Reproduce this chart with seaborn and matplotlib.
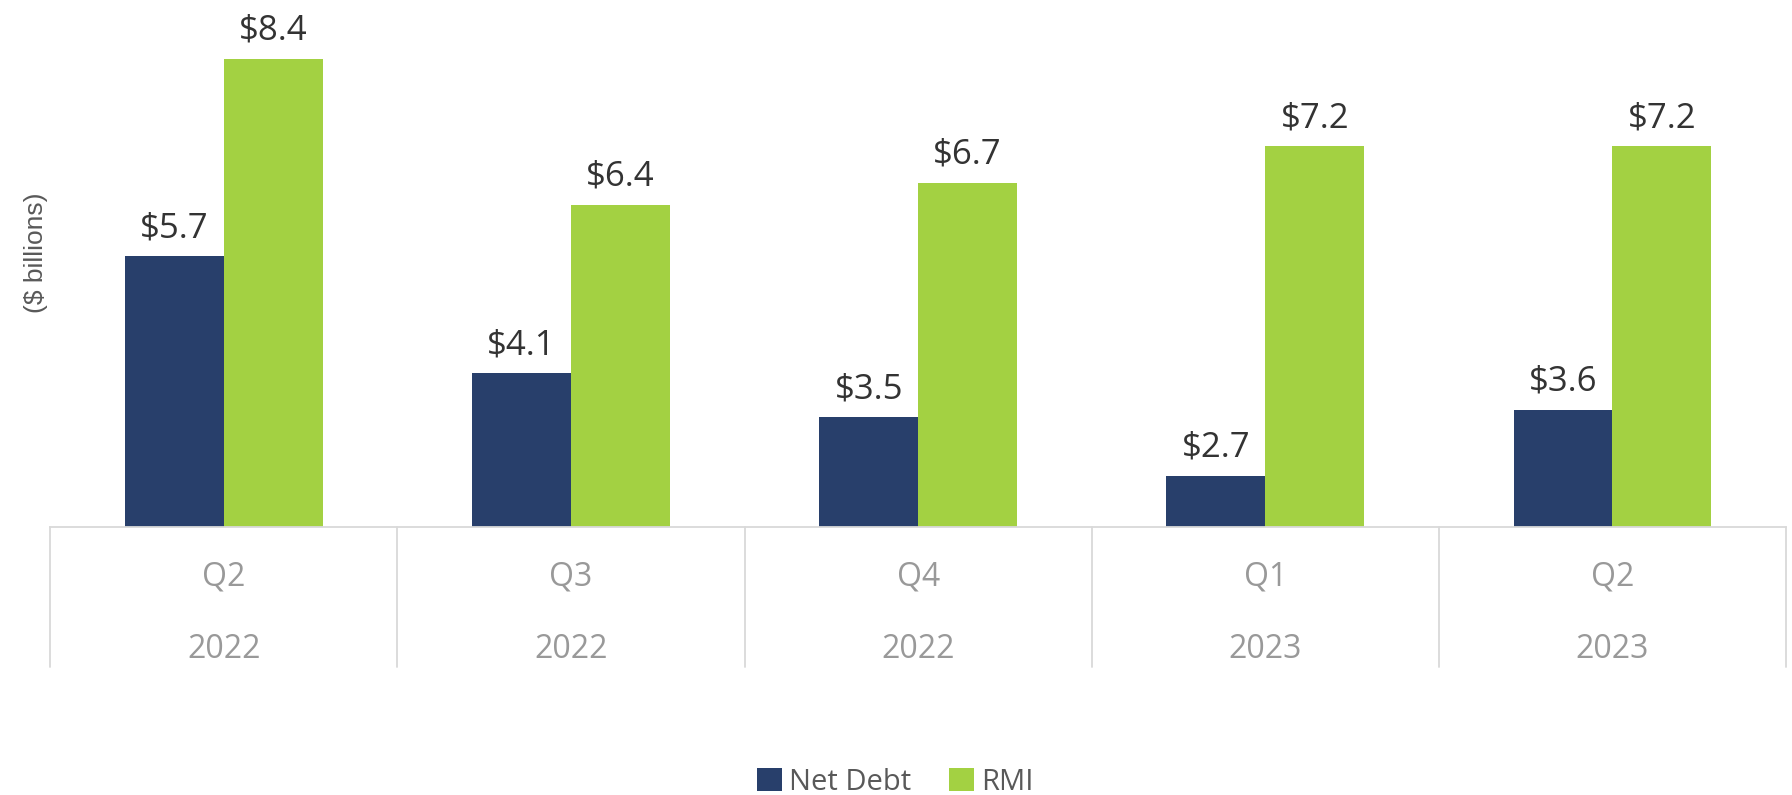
import pandas as pd
import numpy as np
import matplotlib.pyplot as plt
import seaborn as sns

quarters = ['Q2', 'Q3', 'Q4', 'Q1', 'Q2']
years = ['2022', '2022', '2022', '2023', '2023']
net_debt = [5.7, 4.1, 3.5, 2.7, 3.6]
rmi = [8.4, 6.4, 6.7, 7.2, 7.2]

series_names = ['Net Debt', 'RMI']
colors = ['#283F6B', '#A3D142']

# long table for seaborn
periods = [q + '\n' + y for q, y in zip(quarters, years)]
df = pd.DataFrame({
    'period': periods * 2,
    'value': net_debt + rmi,
    'series': [series_names[0]] * 5 + [series_names[1]] * 5,
})
df['pos'] = list(range(5)) * 2

sns.set_style('white')
plt.rcParams['font.family'] = ['Open Sans', 'DejaVu Sans']

fig = plt.figure(figsize=(17.92, 7.95), dpi=100)
ax = fig.add_axes([0.028, 0.337, 0.9687, 0.663])

sns.barplot(data=df, x='pos', y='value', hue='series', palette=colors,
            width=0.57, gap=0, saturation=1, ax=ax, linewidth=0,
            errorbar=None, order=list(range(5)))

ax.set_ylim(2, 9.2)
ax.set_xlim(-0.5, 4.5)

for cont in ax.containers:
    ax.bar_label(cont, labels=['${:.1f}'.format(v) for v in cont.datavalues],
                 padding=8, fontsize=25, color='#333333')

for s in ['top', 'right', 'left']:
    ax.spines[s].set_visible(False)
ax.spines['bottom'].set_color('#D9D9D9')
ax.spines['bottom'].set_linewidth(1.3)
ax.set_yticks([])
ax.set_xlabel('')
ax.set_ylabel('($ billions)', fontsize=19, color='#595959', family='Liberation Sans')
ax.yaxis.set_label_coords(-0.001, 0.52)

ax.set_xticks(range(5))
ax.set_xticklabels(periods, fontsize=23, color='#999999', linespacing=2.6)
ax.tick_params(axis='x', length=0, pad=24)

# category dividers under the axis
trans = ax.get_xaxis_transform()
for xb in np.arange(-0.5, 5, 1.0):
    ax.plot([xb, xb], [0, -0.265], transform=trans, color='#D9D9D9', lw=1.3, clip_on=False)

sns.move_legend(ax, 'lower center', bbox_to_anchor=(0.4995, -0.035), bbox_transform=fig.transFigure,
                ncol=2, frameon=False, title=None, fontsize=21, handlelength=0.85, handleheight=0.85,
                columnspacing=1.3, handletextpad=0.25)
for t in ax.get_legend().get_texts():
    t.set_color('#595959')

fig.savefig('out.png', dpi=100)
